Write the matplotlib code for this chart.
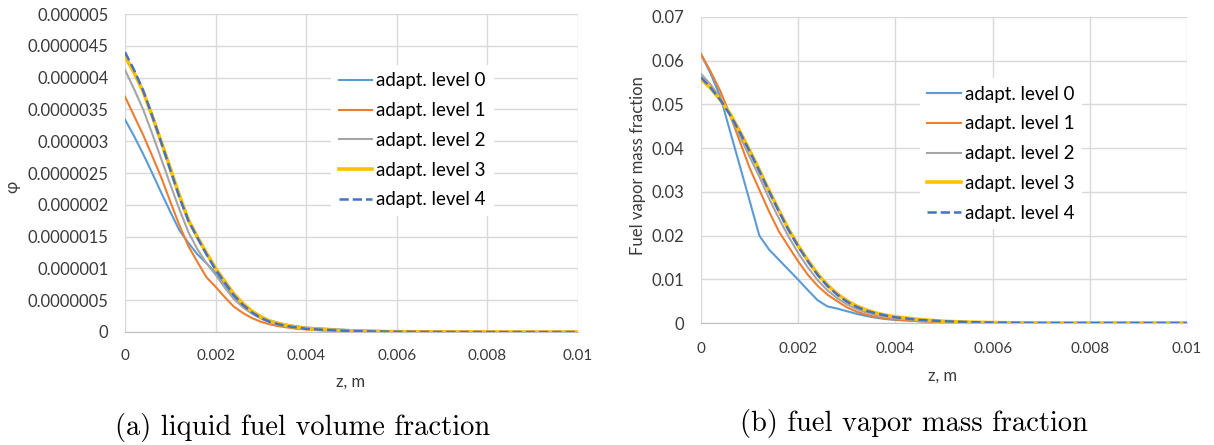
import numpy as np
import matplotlib.pyplot as plt

plt.rcParams['font.family'] = ['Lato', 'DejaVu Sans']

# z grid (m)
z = [0, 0.0002, 0.0004, 0.0006, 0.0008, 0.001, 0.0012, 0.0014, 0.0016, 0.0018,
     0.002, 0.0022, 0.0024, 0.0026, 0.0028, 0.003, 0.0032, 0.0034, 0.0036, 0.0038,
     0.004, 0.0045, 0.005, 0.0055, 0.006, 0.007, 0.008, 0.009, 0.01]

# (a) liquid fuel volume fraction, in units of 1e-6
phi_0 = [3.34, 3.08, 2.80, 2.50, 2.19, 1.89, 1.60, 1.40, 1.22, 1.08,
         0.93, 0.75, 0.55, 0.42, 0.32, 0.24, 0.18, 0.14, 0.11, 0.09,
         0.07, 0.05, 0.03, 0.02, 0.01, 0.0, 0.0, 0.0, 0.0]
phi_1 = [3.70, 3.40, 3.10, 2.77, 2.43, 2.05, 1.68, 1.35, 1.10, 0.86,
         0.71, 0.55, 0.40, 0.30, 0.22, 0.16, 0.12, 0.09, 0.07, 0.05,
         0.04, 0.02, 0.01, 0.005, 0.002, 0.0, 0.0, 0.0, 0.0]
phi_2 = [4.12, 3.82, 3.50, 3.12, 2.72, 2.32, 1.93, 1.57, 1.30, 1.08,
         0.90, 0.70, 0.52, 0.39, 0.29, 0.21, 0.15, 0.11, 0.09, 0.07,
         0.05, 0.03, 0.015, 0.008, 0.004, 0.001, 0.0, 0.0, 0.0]
phi_3 = [4.33, 4.08, 3.78, 3.40, 2.99, 2.57, 2.15, 1.76, 1.49, 1.24,
         1.00, 0.80, 0.60, 0.45, 0.33, 0.24, 0.17, 0.13, 0.10, 0.075,
         0.055, 0.03, 0.017, 0.009, 0.005, 0.002, 0.001, 0.0, 0.0]
phi_4 = [4.40, 4.12, 3.80, 3.40, 2.98, 2.55, 2.12, 1.75, 1.48, 1.22,
         0.98, 0.78, 0.58, 0.43, 0.31, 0.22, 0.16, 0.12, 0.09, 0.07,
         0.05, 0.03, 0.015, 0.008, 0.004, 0.001, 0.0, 0.0, 0.0]

# (b) fuel vapor mass fraction
y_0 = [0.0615, 0.0570, 0.0517, 0.0438, 0.0359, 0.0280, 0.0200, 0.0168, 0.0145, 0.0122,
       0.0099, 0.0075, 0.0052, 0.0038, 0.0033, 0.0027, 0.0021, 0.0016, 0.0012, 0.0009,
       0.0007, 0.0004, 0.0002, 0.0001, 0.00005, 0.0, 0.0, 0.0, 0.0]
y_1 = [0.0615, 0.0575, 0.0530, 0.0475, 0.0415, 0.0355, 0.0305, 0.0255, 0.0210, 0.0175,
       0.0141, 0.0110, 0.0085, 0.0065, 0.0050, 0.0036, 0.0026, 0.0019, 0.0014, 0.0010,
       0.0008, 0.0004, 0.0002, 0.0001, 0.00005, 0.0, 0.0, 0.0, 0.0]
y_2 = [0.0570, 0.0545, 0.0515, 0.0475, 0.0428, 0.0380, 0.0335, 0.0285, 0.0240, 0.0198,
       0.0160, 0.0127, 0.0098, 0.0075, 0.0057, 0.0043, 0.0032, 0.0024, 0.0018, 0.0014,
       0.0011, 0.0006, 0.0003, 0.00015, 0.0001, 0.0, 0.0, 0.0, 0.0]
y_3 = [0.0558, 0.0537, 0.0510, 0.0478, 0.0438, 0.0395, 0.0350, 0.0303, 0.0258, 0.0215,
       0.0177, 0.0143, 0.0112, 0.0087, 0.0067, 0.0051, 0.0039, 0.0030, 0.0023, 0.0018,
       0.0014, 0.0008, 0.0004, 0.0002, 0.0001, 0.0, 0.0, 0.0, 0.0]
y_4 = [0.0562, 0.0538, 0.0510, 0.0476, 0.0436, 0.0393, 0.0348, 0.0301, 0.0256, 0.0213,
       0.0175, 0.0141, 0.0110, 0.0085, 0.0065, 0.0049, 0.0037, 0.0028, 0.0022, 0.0017,
       0.0013, 0.0007, 0.0004, 0.0002, 0.0001, 0.0, 0.0, 0.0, 0.0]

labels = ["adapt. level 0", "adapt. level 1", "adapt. level 2", "adapt. level 3", "adapt. level 4"]
colors = ["#5B9BD5", "#ED7D31", "#A5A5A5", "#FFC000", "#4472C4"]
widths = [1.5, 1.5, 1.5, 2.6, 1.8]
styles = ["-", "-", "-", "-", "--"]

x_ticks = [0, 0.002, 0.004, 0.006, 0.008, 0.01]
x_ticklabels = ["0", "0.002", "0.004", "0.006", "0.008", "0.01"]
phi_ticks = np.arange(11) * 0.5e-6
phi_ticklabels = ["0", "0.0000005", "0.000001", "0.0000015", "0.000002", "0.0000025",
                  "0.000003", "0.0000035", "0.000004", "0.0000045", "0.000005"]
y_ticks = [0, 0.01, 0.02, 0.03, 0.04, 0.05, 0.06, 0.07]
y_ticklabels = ["0", "0.01", "0.02", "0.03", "0.04", "0.05", "0.06", "0.07"]

W, H = 1214, 445
fig = plt.figure(figsize=(W / 100, H / 100), dpi=100)
txt = "#3A3A3A"


def px_axes(x0, y0, x1, y1):
    return fig.add_axes([x0 / W, 1 - y1 / H, (x1 - x0) / W, (y1 - y0) / H])


def style(ax, xpad):
    for s in ["top", "right", "left"]:
        ax.spines[s].set_visible(False)
    ax.spines["bottom"].set_color("#BFBFBF")
    ax.grid(True, color="#D9D9D9", linewidth=1.0)
    ax.set_axisbelow(True)
    ax.tick_params(axis="y", length=0, labelsize=12, colors=txt, pad=12)
    ax.tick_params(axis="x", length=0, labelsize=11, colors=txt, pad=xpad)
    ax.set_xlim(0, 0.01)
    ax.set_xticks(x_ticks)
    ax.set_xticklabels(x_ticklabels)


leg_kw = dict(loc="upper left", borderaxespad=0, frameon=True, facecolor="white",
              edgecolor="none", framealpha=1, fontsize=13.5, handlelength=1.8,
              labelspacing=0.68, handletextpad=0.22, fancybox=False)

# (a)
ax1 = px_axes(125, 14, 578, 332)
style(ax1, 12)
for vals, lab, c, lw, ls in zip([phi_0, phi_1, phi_2, phi_3, phi_4], labels, colors, widths, styles):
    ax1.plot(z, np.array(vals) * 1e-6, color=c, lw=lw, ls=ls, label=lab)
ax1.set_ylim(0, 5e-6)
ax1.set_yticks(phi_ticks)
ax1.set_yticklabels(phi_ticklabels)
ax1.set_xlabel("z, m", fontsize=12, color=txt)
ax1.xaxis.set_label_coords(0.497, -0.13)
ax1.set_ylabel("φ", fontsize=12, color=txt)
ax1.yaxis.set_label_coords(-0.23, 0.456)
ax1.legend(bbox_to_anchor=(0.455, 0.84), **leg_kw)

# (b)
ax2 = px_axes(701, 17, 1187, 323)
style(ax2, 14)
for vals, lab, c, lw, ls in zip([y_0, y_1, y_2, y_3, y_4], labels, colors, widths, styles):
    ax2.plot(z, vals, color=c, lw=lw, ls=ls, label=lab)
ax2.set_ylim(0, 0.07)
ax2.set_yticks(y_ticks)
ax2.set_yticklabels(y_ticklabels)
ax2.set_xlabel("z, m", fontsize=12, color=txt)
ax2.xaxis.set_label_coords(0.498, -0.145)
ax2.set_ylabel("Fuel vapor mass fraction", fontsize=12, color=txt)
ax2.yaxis.set_label_coords(-0.113, 0.513)
ax2.legend(bbox_to_anchor=(0.45, 0.80), **leg_kw)

fig.text(303 / W, 1 - 428 / H, "(a) liquid fuel volume fraction", family="cmr10",
         fontsize=20.5, ha="center", va="center")
fig.text(914 / W, 1 - 424 / H, "(b) fuel vapor mass fraction", family="cmr10",
         fontsize=20.5, ha="center", va="center")

fig.savefig("out.png", dpi=100)
